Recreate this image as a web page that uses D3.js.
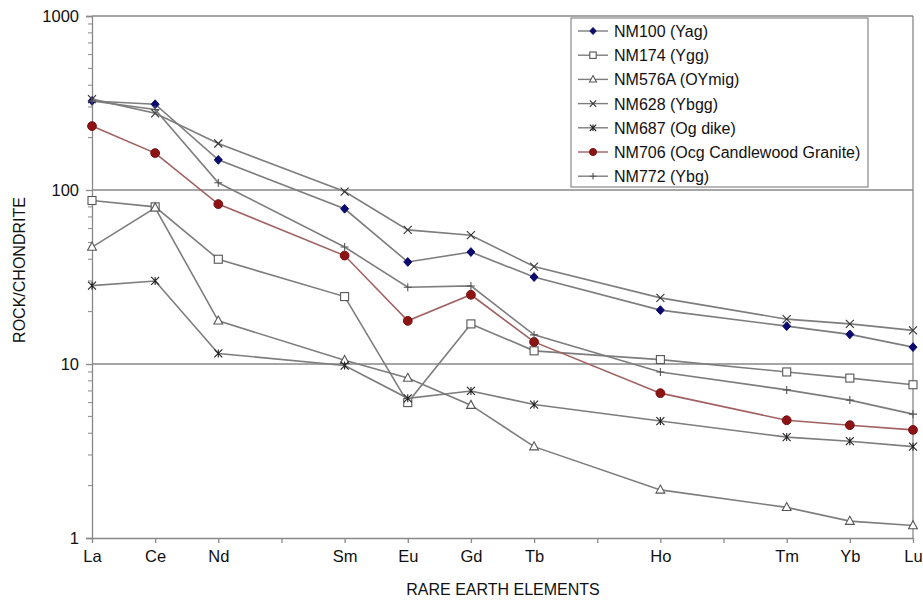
<!DOCTYPE html>
<html>
<head>
<meta charset="utf-8">
<script src="https://cdn.jsdelivr.net/npm/d3@7"></script>
<style>
  body { margin: 0; background: #fff; }
  text { font-family: Arial, "Liberation Sans", sans-serif; fill: #111; }
</style>
</head>
<body>
<svg id="mySvg"></svg>
<script>
const width = 923;
const height = 605;

// axis slots (atomic order), blanks for elements not analysed
const slots = ["La", "Ce", "Nd", "Pm", "Sm", "Eu", "Gd", "Tb", "Dy", "Ho", "Er", "Tm", "Yb", "Lu"];
const slotLabels = ["La", "Ce", "Nd", "", "Sm", "Eu", "Gd", "Tb", "", "Ho", "", "Tm", "Yb", "Lu"];
const elements = ["La", "Ce", "Nd", "Sm", "Eu", "Gd", "Tb", "Ho", "Tm", "Yb", "Lu"];
const yTicks = [1, 10, 100, 1000];

// rock / chondrite values
const nm100 = [325, 311, 149, 78, 38.6, 44, 31.6, 20.4, 16.5, 14.8, 12.5];
const nm174 = [87, 80, 40, 24.4, 6.0, 17.0, 11.9, 10.6, 9.0, 8.3, 7.6];
const nm576a = [47, 79, 17.7, 10.5, 8.3, 5.8, 3.35, 1.89, 1.50, 1.25, 1.18];
const nm628 = [333, 276, 185, 98, 59, 55, 36.3, 24, 18.1, 17.0, 15.6];
const nm687 = [28.2, 30, 11.5, 9.8, 6.35, 7.0, 5.85, 4.7, 3.8, 3.6, 3.35];
const nm706 = [233, 163, 83, 42, 17.7, 25, 13.4, 6.8, 4.75, 4.45, 4.18];
const nm772 = [325, 290, 110, 47, 27.6, 28.1, 14.7, 9.0, 7.1, 6.2, 5.15];

const seriesNames = ["NM100 (Yag)", "NM174 (Ygg)", "NM576A (OYmig)", "NM628 (Ybgg)",
  "NM687 (Og dike)", "NM706 (Ocg Candlewood Granite)", "NM772 (Ybg)"];
const seriesValues = [nm100, nm174, nm576a, nm628, nm687, nm706, nm772];
const markers = ["diamond", "square", "triangle", "cross", "asterisk", "circle", "plus"];
const lineColors = ["#7d7d7d", "#7d7d7d", "#7d7d7d", "#7d7d7d", "#7d7d7d", "#a06060", "#7d7d7d"];

const margin = { left: 92, right: 10, top: 16, bottom: 67 };

const svg = d3.select("#mySvg").attr("width", width).attr("height", height);

const x = d3.scalePoint().domain(slots).range([margin.left, width - margin.right]);
const y = d3.scaleLog().domain([1, 1000]).range([height - margin.bottom, margin.top]);

const axisColor = "#888";

// gridlines
svg.append("g")
  .selectAll("line")
  .data(yTicks.slice(1))
  .enter()
  .append("line")
  .attr("x1", margin.left)
  .attr("x2", width - margin.right)
  .attr("y1", (d) => y(d))
  .attr("y2", (d) => y(d))
  .attr("stroke", axisColor)
  .attr("stroke-width", 1.3);

// right border
svg.append("line")
  .attr("x1", width - margin.right).attr("x2", width - margin.right)
  .attr("y1", margin.top).attr("y2", height - margin.bottom)
  .attr("stroke", axisColor).attr("stroke-width", 1.3);

// y axis
const minorTicks = [];
for (let dec = 1; dec < 1000; dec *= 10) {
  for (let k = 2; k <= 9; k++) minorTicks.push(dec * k);
}
const yAxis = svg.append("g").attr("transform", `translate(${margin.left},0)`);
yAxis.call(d3.axisLeft(y).tickValues(yTicks).tickFormat(d3.format("d")).tickSize(6).tickPadding(7));
yAxis.selectAll(".tick line").attr("stroke", axisColor).attr("stroke-width", 1.3);
yAxis.select(".domain").attr("stroke", axisColor).attr("stroke-width", 1.3);
yAxis.selectAll("text").style("font-size", "16.5px").attr("fill", "#111");
yAxis.append("g")
  .selectAll("line")
  .data(minorTicks)
  .enter()
  .append("line")
  .attr("x1", -4).attr("x2", 0)
  .attr("y1", (d) => y(d)).attr("y2", (d) => y(d))
  .attr("stroke", axisColor).attr("stroke-width", 1);

// x axis
const xAxis = svg.append("g").attr("transform", `translate(0,${height - margin.bottom})`);
xAxis.call(d3.axisBottom(x).tickFormat((d, i) => slotLabels[i]).tickSize(5).tickPadding(7).tickSizeOuter(0));
xAxis.selectAll(".tick line").attr("stroke", axisColor).attr("stroke-width", 1.3);
xAxis.select(".domain").attr("stroke", axisColor).attr("stroke-width", 1.3);
xAxis.selectAll("text").style("font-size", "16.5px").attr("fill", "#111");

// axis titles
svg.append("text")
  .attr("transform", `translate(25, 270) rotate(-90)`)
  .attr("text-anchor", "middle")
  .style("font-size", "16px")
  .text("ROCK/CHONDRITE");

svg.append("text")
  .attr("x", 503)
  .attr("y", 595)
  .attr("text-anchor", "middle")
  .style("font-size", "16px")
  .text("RARE EARTH ELEMENTS");

// marker drawing, k scales the size
function drawMarker(g, type, cx, cy, k) {
  const r = 4 * k;
  if (type === "diamond") {
    g.append("path")
      .attr("d", `M${cx},${cy - r * 1.1}L${cx + r},${cy}L${cx},${cy + r * 1.1}L${cx - r},${cy}Z`)
      .attr("fill", "#0a0a6e").attr("stroke", "#0a0a6e");
  } else if (type === "square") {
    g.append("rect")
      .attr("x", cx - r).attr("y", cy - r).attr("width", 2 * r).attr("height", 2 * r)
      .attr("fill", "#fff").attr("stroke", "#555").attr("stroke-width", 1.1);
  } else if (type === "triangle") {
    g.append("path")
      .attr("d", `M${cx},${cy - r * 1.2}L${cx + r * 1.1},${cy + r * 0.8}L${cx - r * 1.1},${cy + r * 0.8}Z`)
      .attr("fill", "#fff").attr("stroke", "#555").attr("stroke-width", 1.1);
  } else if (type === "cross") {
    g.append("path")
      .attr("d", `M${cx - r},${cy - r}L${cx + r},${cy + r}M${cx - r},${cy + r}L${cx + r},${cy - r}`)
      .attr("stroke", "#333").attr("stroke-width", 1.1);
  } else if (type === "asterisk") {
    g.append("path")
      .attr("d", `M${cx - r},${cy - r}L${cx + r},${cy + r}M${cx - r},${cy + r}L${cx + r},${cy - r}M${cx},${cy - r}L${cx},${cy + r}`)
      .attr("stroke", "#222").attr("stroke-width", 1.1);
  } else if (type === "circle") {
    g.append("circle")
      .attr("cx", cx).attr("cy", cy).attr("r", r * 1.1)
      .attr("fill", "#8c1414").attr("stroke", "#7a1010");
  } else if (type === "plus") {
    g.append("path")
      .attr("d", `M${cx - r},${cy}L${cx + r},${cy}M${cx},${cy - r}L${cx},${cy + r}`)
      .attr("stroke", "#555").attr("stroke-width", 1.1);
  }
}

const line = d3.line()
  .x((d) => x(d.el))
  .y((d) => y(d.v));

seriesValues.forEach((vals, s) => {
  const pts = elements.map((el, i) => ({ el: el, v: vals[i] }));
  const g = svg.append("g");
  g.append("path")
    .datum(pts)
    .attr("fill", "none")
    .attr("stroke", lineColors[s])
    .attr("stroke-width", 1.6)
    .attr("d", line);
  pts.forEach((p) => drawMarker(g, markers[s], x(p.el), y(p.v), 1));
});

// legend
const legX = 571, legY = 18, legW = 297, legH = 169, rowH = 24.2;
const legend = svg.append("g");
legend.append("rect")
  .attr("x", legX).attr("y", legY).attr("width", legW).attr("height", legH)
  .attr("fill", "#fff").attr("stroke", "#888").attr("stroke-width", 1.2);

seriesNames.forEach((name, i) => {
  const cy = legY + 13 + i * rowH;
  const g = legend.append("g");
  g.append("line")
    .attr("x1", legX + 7).attr("x2", legX + 37)
    .attr("y1", cy).attr("y2", cy)
    .attr("stroke", lineColors[i]).attr("stroke-width", 1.4);
  drawMarker(g, markers[i], legX + 22, cy, 0.8);
  g.append("text")
    .attr("x", legX + 43)
    .attr("y", cy + 6)
    .style("font-size", "16px")
    .text(name);
});
</script>
</body>
</html>
